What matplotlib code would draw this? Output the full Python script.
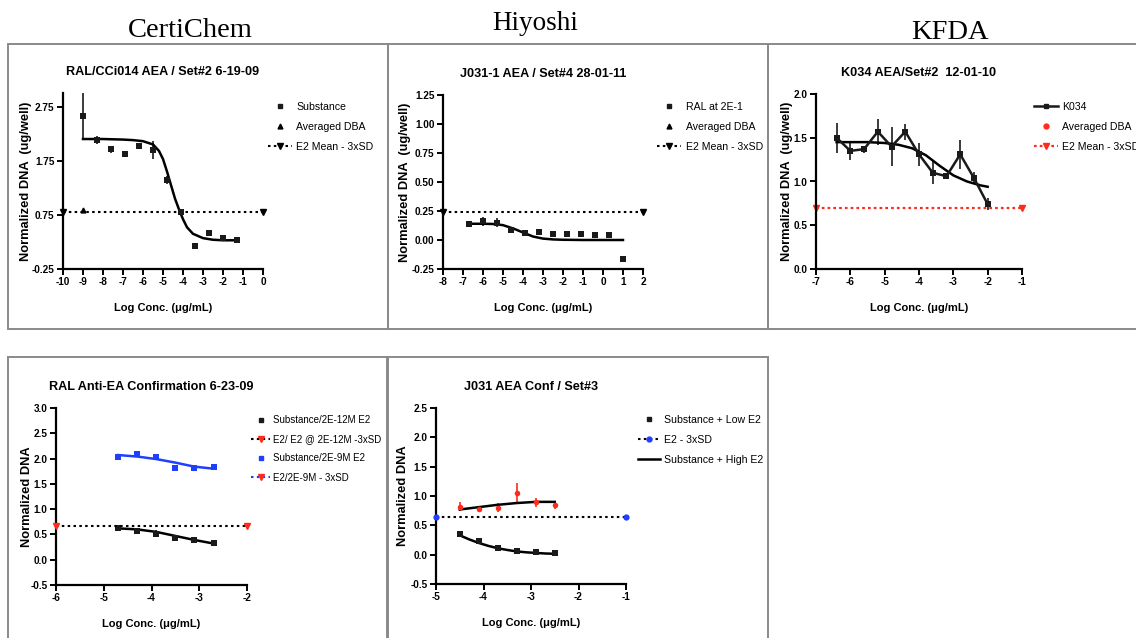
import matplotlib
matplotlib.use("Agg")
import matplotlib.pyplot as plt
from matplotlib.lines import Line2D
from matplotlib.patches import Rectangle

plt.rcParams['font.family'] = ['Liberation Sans', 'DejaVu Sans']

W, H = 1136, 638

# ---------------- data ----------------
headers = ["CertiChem", "Hiyoshi", "KFDA"]

# Panel 1: RAL/CCi014 AEA / Set#2 6-19-09
p1_x = [-9.0, -8.3, -7.6, -6.9, -6.2, -5.5, -4.8, -4.1, -3.4, -2.7, -2.0, -1.3]
p1_y = [2.57, 2.13, 1.96, 1.87, 2.02, 1.95, 1.39, 0.80, 0.18, 0.41, 0.32, 0.29]
p1_err = [0.44, 0.07, 0.07, 0.06, 0.03, 0.17, 0.07, 0.03, 0.03, 0.03, 0.03, 0.03]
p1_fit_x = [-9, -8, -7, -6.5, -6, -5.5, -5.2, -5.0, -4.8, -4.6, -4.4, -4.2, -4.0, -3.8, -3.5, -3.0, -2.5, -2.0, -1.3]
p1_fit_y = [2.15, 2.15, 2.14, 2.13, 2.11, 2.05, 1.93, 1.78, 1.55, 1.30, 1.05, 0.85, 0.67, 0.52, 0.40, 0.32, 0.29, 0.28, 0.28]
p1_dba_x = [-9.0]
p1_dba_y = [0.84]
p1_e2 = 0.80

# Panel 2: J031-1 AEA / Set#4 28-01-11
p2_x = [-6.7, -6.0, -5.3, -4.6, -3.9, -3.2, -2.5, -1.8, -1.1, -0.4, 0.3, 1.0]
p2_y = [0.14, 0.16, 0.15, 0.085, 0.06, 0.07, 0.05, 0.055, 0.05, 0.04, 0.04, -0.16]
p2_err = [0.02, 0.04, 0.04, 0.02, 0.01, 0.02, 0.02, 0.02, 0.02, 0.01, 0.01, 0.02]
p2_fit_x = [-6.7, -6.0, -5.5, -5.0, -4.5, -4.0, -3.5, -3.0, -2.5, -2.0, -1.0, 0.0, 1.0]
p2_fit_y = [0.14, 0.14, 0.138, 0.128, 0.10, 0.065, 0.03, 0.012, 0.005, 0.002, 0.0, 0.0, 0.0]
p2_e2 = 0.24

# Panel 3: K034 AEA/Set#2 12-01-10
p3_x = [-6.4, -6.0, -5.6, -5.2, -4.8, -4.4, -4.0, -3.6, -3.2, -2.8, -2.4, -2.0]
p3_y = [1.50, 1.35, 1.37, 1.57, 1.40, 1.57, 1.31, 1.10, 1.06, 1.31, 1.04, 0.74]
p3_err = [0.17, 0.10, 0.04, 0.15, 0.22, 0.09, 0.13, 0.13, 0.03, 0.17, 0.07, 0.07]
p3_fit_x = [-6.4, -5.5, -5.0, -4.6, -4.2, -3.8, -3.4, -3.0, -2.6, -2.2, -2.0]
p3_fit_y = [1.45, 1.45, 1.44, 1.42, 1.38, 1.30, 1.18, 1.07, 1.00, 0.955, 0.94]
p3_e2 = 0.70

# Panel 4: RAL Anti-EA Confirmation 6-23-09
p4_x = [-4.7, -4.3, -3.9, -3.5, -3.1, -2.7]
p4_low_y = [0.62, 0.57, 0.51, 0.42, 0.38, 0.34]
p4_low_err = [0.03, 0.03, 0.07, 0.03, 0.02, 0.03]
p4_low_fit = [0.62, 0.60, 0.55, 0.47, 0.39, 0.32]
p4_high_y = [2.03, 2.09, 2.03, 1.81, 1.82, 1.83]
p4_high_err = [0.04, 0.04, 0.04, 0.05, 0.03, 0.04]
p4_high_fit = [2.07, 2.04, 1.99, 1.92, 1.84, 1.80]
p4_e2 = 0.67

# Panel 5: J031 AEA Conf / Set#3
p5_x = [-4.5, -4.1, -3.7, -3.3, -2.9, -2.5]
p5_low_y = [0.36, 0.23, 0.11, 0.07, 0.045, 0.02]
p5_low_err = [0.03, 0.02, 0.02, 0.02, 0.02, 0.02]
p5_low_fit_x = [-4.5, -4.3, -4.1, -3.9, -3.7, -3.5, -3.3, -3.1, -2.9, -2.7, -2.5]
p5_low_fit_y = [0.33, 0.26, 0.20, 0.15, 0.11, 0.08, 0.055, 0.04, 0.03, 0.02, 0.015]
p5_high_y = [0.82, 0.78, 0.80, 1.05, 0.89, 0.84]
p5_high_err = [0.08, 0.03, 0.08, 0.18, 0.07, 0.07]
p5_high_fit = [0.77, 0.81, 0.85, 0.88, 0.90, 0.90]
p5_e2 = 0.65

titles = ["RAL/CCi014 AEA / Set#2 6-19-09", "J031-1 AEA / Set#4 28-01-11",
          "K034 AEA/Set#2  12-01-10", "RAL Anti-EA Confirmation 6-23-09",
          "J031 AEA Conf / Set#3"]
xlab = "Log Conc. (\u03bcg/mL)"
ylab_w = "Normalized DNA  (ug/well)"
ylab = "Normalized DNA"

# ---------------- figure ----------------
fig = plt.figure(figsize=(W / 100, H / 100), dpi=100)


def add_ax(x0, x1, ytop, ybot):
    return fig.add_axes([x0 / W, 1 - ybot / H, (x1 - x0) / W, (ybot - ytop) / H])


def box(x0, y0, x1, y1):
    fig.add_artist(Rectangle((x0 / W, 1 - y1 / H), (x1 - x0) / W, (y1 - y0) / H,
                             transform=fig.transFigure, fill=False,
                             edgecolor='#8a8a8a', lw=1.4))


box(8, 44, 388, 329)
box(388, 44, 768, 329)
box(768, 44, 1142, 329)
box(8, 357, 387, 642)
box(388, 357, 768, 642)

hdr_font = dict(family='Liberation Serif', ha='center', va='baseline')
fig.text(190 / W, 1 - 37 / H, headers[0], fontsize=20.5, **hdr_font)
fig.text(535 / W, 1 - 30 / H, headers[1], fontsize=19.5, **hdr_font)
fig.text(950 / W, 1 - 39 / H, headers[2], fontsize=20.5, **hdr_font)


def style(ax, xlim, ylim, xticks, yticks, yfmt, title, yl):
    ax.set_xlim(*xlim)
    ax.set_ylim(*ylim)
    ax.set_xticks(xticks)
    ax.set_yticks(yticks)
    ax.set_yticklabels([yfmt.format(v) for v in yticks])
    ax.set_xticklabels(["{:d}".format(int(v)) for v in xticks])
    for s in ['top', 'right']:
        ax.spines[s].set_visible(False)
    for s in ['left', 'bottom']:
        ax.spines[s].set_linewidth(1.6)
    ax.tick_params(direction='out', length=4, width=1.4, labelsize=7.2, pad=2)
    for lab in ax.get_xticklabels() + ax.get_yticklabels():
        lab.set_fontweight('bold')
    ax.patch.set_alpha(0)
    ax.set_title(title, fontsize=9.1, fontweight='bold', pad=13)
    ax.set_xlabel(xlab, fontsize=8.0, fontweight='bold', labelpad=11)
    ax.set_ylabel(yl, fontsize=9.3, fontweight='bold')


def set_ylab_px(ax, xpx):
    pos = ax.get_position()
    ax.yaxis.set_label_coords(xpx / W, 0.5 * (pos.y0 + pos.y1), transform=fig.transFigure)


def legend(ax, handles, labels, xpx, ypx, fs=7.6, hl=2.3, htp=0.4):
    ax.legend(handles, labels, loc='upper left', bbox_to_anchor=(xpx / W, 1 - ypx / H),
              bbox_transform=fig.transFigure, frameon=False, fontsize=fs,
              handlelength=hl, handletextpad=htp, labelspacing=0.95,
              borderpad=0, borderaxespad=0, numpoints=1)


eb = dict(capsize=2.4, elinewidth=1.2, capthick=1.2, ms=4, lw=0, mew=0)
dot = (0, (1.2, 1.6))

# ---- Panel 1 ----
ax1 = add_ax(63, 263, 93, 269)
ax1.errorbar(p1_x, p1_y, yerr=p1_err, fmt='s', color='#1a1a1a', **eb)
ax1.plot(p1_fit_x, p1_fit_y, color='black', lw=1.8)
ax1.plot(p1_dba_x, p1_dba_y, '^', color='black', ms=3.5)
ax1.plot([-10, 0], [p1_e2, p1_e2], color='black', ls=dot, lw=1.5,
         marker='v', ms=4, clip_on=False)
style(ax1, (-10, 0), (-0.25, 3.0), range(-10, 1), [-0.25, 0.75, 1.75, 2.75], "{:.2f}",
      titles[0], ylab_w)
set_ylab_px(ax1, 32)
legend(ax1,
       [Line2D([], [], marker='s', ls='none', color='#1a1a1a', ms=3.5),
        Line2D([], [], marker='^', ls='none', color='black', ms=3.5),
        Line2D([], [], marker='v', ls=dot, color='black', lw=1.5, ms=4)],
       ["Substance", "Averaged DBA", "E2 Mean - 3xSD"], 268, 102)

# ---- Panel 2 ----
ax2 = add_ax(443, 643, 95, 269)
ax2.errorbar(p2_x, p2_y, yerr=p2_err, fmt='s', color='#1a1a1a', **eb)
ax2.plot(p2_fit_x, p2_fit_y, color='black', lw=1.8)
ax2.plot([-8, 2], [p2_e2, p2_e2], color='black', ls=dot, lw=1.5,
         marker='v', ms=4, clip_on=False)
style(ax2, (-8, 2), (-0.25, 1.25), range(-8, 3), [-0.25, 0.0, 0.25, 0.5, 0.75, 1.0, 1.25],
      "{:.2f}", titles[1], ylab_w)
set_ylab_px(ax2, 411)
legend(ax2,
       [Line2D([], [], marker='s', ls='none', color='#1a1a1a', ms=3.5),
        Line2D([], [], marker='^', ls='none', color='black', ms=3.5),
        Line2D([], [], marker='v', ls=dot, color='black', lw=1.5, ms=4)],
       ["RAL at 2E-1", "Averaged DBA", "E2 Mean - 3xSD"], 657, 102)

# ---- Panel 3 ----
ax3 = add_ax(816, 1022, 94, 269)
ax3.errorbar(p3_x, p3_y, yerr=p3_err, fmt='-s', color='#1a1a1a', capsize=2.4,
             elinewidth=1.2, capthick=1.2, ms=4, lw=1.8, mew=0)
ax3.plot(p3_fit_x, p3_fit_y, color='black', lw=1.8)
ax3.plot([-7, -1], [p3_e2, p3_e2], color='#ff2a1a', ls=(0, (1.2, 1.4)), lw=1.6,
         marker='v', ms=4, clip_on=False)
style(ax3, (-7, -1), (0, 2.0), range(-7, 0), [0.0, 0.5, 1.0, 1.5, 2.0], "{:.1f}",
      titles[2], ylab_w)
set_ylab_px(ax3, 793)
legend(ax3,
       [Line2D([], [], marker='s', ls='-', color='#1a1a1a', lw=1.8, ms=3.5),
        Line2D([], [], marker='o', ls='none', color='#ff2a1a', ms=3.5),
        Line2D([], [], marker='v', ls=(0, (1.2, 1.4)), color='#ff2a1a', lw=1.6, ms=4)],
       ["K034", "Averaged DBA", "E2 Mean - 3xSD"], 1034, 102)

# ---- Panel 4 ----
ax4 = add_ax(56, 247, 408, 585)
ax4.errorbar(p4_x, p4_high_y, yerr=p4_high_err, fmt='s', color='#1f3fff', **eb)
ax4.plot(p4_x, p4_high_fit, color='#1f3fff', lw=1.8)
ax4.errorbar(p4_x, p4_low_y, yerr=p4_low_err, fmt='s', color='#1a1a1a', **eb)
ax4.plot(p4_x, p4_low_fit, color='black', lw=1.8)
ax4.plot([-6, -2], [p4_e2, p4_e2], color='black', ls=dot, lw=1.5, zorder=3)
ax4.plot([-6, -2], [p4_e2, p4_e2], ls='none', marker='v', color='#ff2a1a', ms=4,
         clip_on=False, zorder=4)
style(ax4, (-6, -2), (-0.5, 3.0), range(-6, -1), [-0.5, 0, 0.5, 1.0, 1.5, 2.0, 2.5, 3.0],
      "{:.1f}", titles[3], ylab)
set_ylab_px(ax4, 33)
legend(ax4,
       [Line2D([], [], marker='s', ls='none', color='#1a1a1a', ms=3.5),
        Line2D([], [], marker='v', ls=dot, color='black', lw=1.5, ms=4,
               mfc='#ff2a1a', mec='#ff2a1a'),
        Line2D([], [], marker='s', ls='none', color='#1f3fff', ms=3.5),
        Line2D([], [], marker='v', ls=dot, color='#1f3fff', lw=1.5, ms=4,
               mfc='#ff2a1a', mec='#ff2a1a')],
       ["Substance/2E-12M E2", "E2/ E2 @ 2E-12M -3xSD", "Substance/2E-9M E2", "E2/2E-9M - 3xSD"],
       251, 415, fs=7.0, hl=2.0, htp=0.3)

# ---- Panel 5 ----
ax5 = add_ax(436, 626, 408, 584)
ax5.errorbar(p5_x, p5_high_y, yerr=p5_high_err, fmt='o', color='#ff2a1a', **eb)
ax5.plot(p5_x, p5_high_fit, color='black', lw=1.8)
ax5.errorbar(p5_x, p5_low_y, yerr=p5_low_err, fmt='s', color='#1a1a1a', **eb)
ax5.plot(p5_low_fit_x, p5_low_fit_y, color='black', lw=1.8)
ax5.plot([-5, -1], [p5_e2, p5_e2], color='black', ls=dot, lw=1.5, zorder=3)
ax5.plot([-5, -1], [p5_e2, p5_e2], ls='none', marker='o', color='#1f3fff', ms=3.5,
         clip_on=False, zorder=4)
style(ax5, (-5, -1), (-0.5, 2.5), range(-5, 0), [-0.5, 0, 0.5, 1.0, 1.5, 2.0, 2.5],
      "{:.1f}", titles[4], ylab)
set_ylab_px(ax5, 409)
legend(ax5,
       [Line2D([], [], marker='s', ls='none', color='#1a1a1a', ms=3.5),
        Line2D([], [], marker='o', ls=dot, color='black', lw=1.5, ms=3.5,
               mfc='#1f3fff', mec='#1f3fff'),
        Line2D([], [], ls='-', color='black', lw=1.8)],
       ["Substance + Low E2", "E2 - 3xSD", "Substance + High E2"], 638, 415,
       fs=7.6, hl=2.1, htp=0.35)

fig.savefig("out.png", dpi=100)
